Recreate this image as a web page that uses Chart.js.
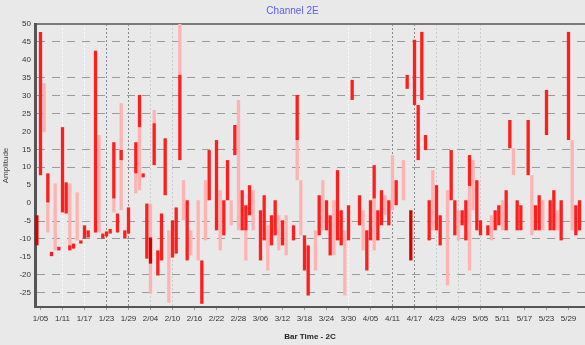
<!DOCTYPE html>
<html>
<head>
<meta charset="utf-8">
<script src="https://cdn.jsdelivr.net/npm/chart.js@4.4.1/dist/chart.umd.min.js"></script>
<style>
  html, body { margin: 0; padding: 0; background: #e9e9e9; }
  #wrap { width: 585px; height: 345px; }
</style>
</head>
<body>
<div id="wrap"><canvas id="chart" width="585" height="345"></canvas></div>
<script>
// one category per bar slot, a label every 6th slot
const categories = Array.from({ length: 150 }, (_, i) => i);
const tickLabels = ['1/05', '1/11', '1/17', '1/23', '1/29', '2/04', '2/10', '2/16', '2/22', '2/28',
    '3/06', '3/12', '3/18', '3/24', '3/30', '4/05', '4/11', '4/17', '4/23', '4/29',
    '5/05', '5/11', '5/17', '5/23', '5/29'];
const yTicks = { min: -29, max: 50, step: 5 };

// floating bars [low, high], red series
const redBars = [
    [-11.8, -3.4], [7.8, 47.8], null, [0, 8.3], [-14.8, -13.6], null, [-13.2, -12.2], [-2.6, 21.2], [-2.9, 5.8], [-13.2, -11.8],
    [-12.7, -11.3], null, [-11.3, -10.4], [-9.9, -6.2], [-9.6, -7.6], null, [-8.2, 42.5], null, [-9.9, -8.5], [-9.3, -7.9],
    [-8.5, -7.2], [1.3, 17.0], [-8.2, -2.9], [12.0, 14.8], [-9.9, -7.6], [-8.5, -1.2], null, [8.3, 17.0], [21.2, 30.2], [7.2, 8.3],
    [-15.5, 0], [-16.9, -9.6], [10.6, 22.3], [-20.2, -13.2], [-16.0, -2.9], [2.2, 18.1], null, [-15.2, -4.8], [-14.1, -1.2], [12.0, 35.8],
    null, [-16.0, 0.8], null, null, null, [-28.1, -16.0], null, [0.8, 14.8], null, [-7.6, 17.6],
    null, [-9.0, 0.8], [0.8, 12.0], null, [13.4, 21.8], null, [-7.6, 3.6], [-7.6, -0.6], [-3.4, 5.0], null,
    null, [-16.0, -2.0], [-10.4, 2.2], null, [-11.8, -3.4], [-9.0, 0.8], null, [-11.8, -4.8], null, null,
    [-10.4, -6.2], [17.6, 30.2], null, [-18.8, -9.0], [-25.8, -11.8], null, null, [-9.0, 2.2], null, [-7.6, 0.8],
    [-14.6, -3.4], null, [-10.4, 9.2], [-11.8, -2.0], null, [-10.4, -0.6], [28.8, 34.4], null, [-6.2, 2.2], null,
    [-18.8, -7.6], [-10.4, 0.8], [1.3, 10.6], [-10.4, -2.0], [-6.2, 3.6], null, [-6.2, 0.8], null, [-0.6, 6.4], null,
    null, [31.9, 35.8], [-16.0, -2.0], [27.4, 45.6], [12.0, 27.4], [28.8, 47.8], [14.8, 19.0], [-10.4, 0.8], null, [-7.6, 5.0],
    [-11.8, -3.4], null, null, [0.8, 14.8], [-9.0, 0.8], null, [-6.2, -2.0], [-10.4, 0.8], [4.8, 13.4], null,
    [-7.6, 6.4], [-9.0, -4.8], null, [-9.0, -6.2], null, [-7.6, -2.0], [-6.2, -0.6], null, [-7.6, 3.6], [15.3, 23.2],
    null, [-7.6, 0.8], [-7.6, -0.6], null, [7.8, 23.2], null, [-7.6, -0.6], [-7.6, 2.2], null, [19.0, 31.6],
    [-7.6, 0.8], [-7.6, 3.6], null, [-10.4, 0.8], null, [17.6, 47.8], null, [-9.0, -0.6], [-7.6, 0.8], null
];

// floating bars [low, high], light series
const pinkBars = [
    null, null, [19.8, 33.5], [-8.2, 0], null, [-13.2, 5.5], null, null, null, [-12.4, 5.5],
    null, [-10.4, 3.0], null, null, null, null, null, [-8.2, 19.0], null, null,
    null, [-2.6, 1.3], null, [-2.0, 27.9], null, null, null, [2.7, 8.3], [3.6, 21.2], null,
    null, [-25.3, 0], [22.3, 26.0], null, null, null, [-27.8, -7.6], null, null, [35.8, 50],
    [-4.8, 6.4], null, [-14.6, -7.6], null, [-16.0, 0.8], null, [-10.4, 6.4], null, null, null,
    [-13.2, 3.6], null, null, [-6.2, 0.8], null, [-7.6, 28.8], null, [-16.0, -7.6], null, [-7.6, 3.6],
    null, null, null, [-18.8, -6.2], null, null, [-13.2, -3.4], null, [-14.6, -3.4], null,
    null, [6.4, 17.6], [-9.0, 6.4], null, null, null, [-18.8, -7.6], null, [-7.6, 6.4], null,
    null, [-14.6, 0.8], null, null, [-25.8, -7.6], null, null, null, null, [-13.2, -2.0],
    null, null, [-13.2, 1.3], null, null, [-3.4, 2.2], null, [-2.0, 13.4], null, null,
    [0.8, 12.0], null, null, null, null, null, null, null, [-7.6, 9.2], null,
    null, null, [-23.0, 3.6], null, null, [-10.4, -2.0], null, null, [-18.8, 4.8], [-2.0, 12.0],
    null, null, null, null, [-10.4, -3.4], null, null, [-7.6, 0.8], null, null,
    [7.8, 15.3], null, null, null, null, [-9.0, 7.8], null, null, [-7.6, 0.8], null,
    null, null, [-7.6, -2.0], null, null, null, [-7.6, 17.6], null, null, null
];

// style helpers (keyed by category index)
const darkBars = [0, 31, 102];
const vGridColors = {
    7: '#fafafa', 13: '#fafafa', 19: '#8a8a8a', 25: '#8a8a8a', 31: '#cdcdcd', 37: '#cdcdcd',
    85: '#fafafa', 91: '#fafafa', 97: '#8a8a8a', 103: '#8a8a8a', 109: '#cdcdcd', 115: '#cdcdcd', 121: '#cdcdcd'
};
const hiddenYGrid = [50, 40, 20, 5, 0, -15];
const FONT = 'Liberation Sans, Arial, sans-serif';

const isLabelled = (i) => i % 6 === 1;

new Chart(document.getElementById('chart'), {
    type: 'bar',
    data: {
        labels: categories,
        datasets: [
            {
                label: 'Up',
                data: redBars,
                backgroundColor: (ctx) => darkBars.includes(ctx.dataIndex) ? '#d60000' : '#ff1e1e',
                borderWidth: 0,
                barPercentage: 1,
                categoryPercentage: 0.9,
                grouped: false,
                order: 0
            },
            {
                label: 'Down',
                data: pinkBars,
                backgroundColor: '#ffb2b2',
                borderWidth: 0,
                barPercentage: 1,
                categoryPercentage: 0.9,
                grouped: false,
                order: 1
            }
        ]
    },
    options: {
        responsive: false,
        animation: false,
        layout: { padding: 0 },
        plugins: {
            legend: { display: false },
            tooltip: { enabled: false },
            title: {
                display: true,
                text: 'Channel 2E',
                color: '#5b5bff',
                font: { family: FONT, size: 10, weight: 'normal' },
                padding: { top: 5, bottom: 7 }
            }
        },
        scales: {
            x: {
                type: 'category',
                position: 'bottom',
                offset: true,
                grid: {
                    offset: false,
                    // tick.value is the category index of the tick
                    color: (ctx) => (ctx.tick && vGridColors[ctx.tick.value]) || 'transparent',
                    tickColor: '#999',
                    tickLength: 3
                },
                border: { color: '#555', width: 2, dash: [2, 2] },
                ticks: {
                    autoSkip: false,
                    maxRotation: 0,
                    padding: 4,
                    color: '#333',
                    font: { family: FONT, size: 8 },
                    callback: (val, i) => isLabelled(i) ? tickLabels[(i - 1) / 6] : null
                },
                title: {
                    display: true,
                    text: 'Bar Time - 2C',
                    color: '#222',
                    font: { family: FONT, size: 8, weight: 'bold' },
                    padding: { top: 2, bottom: 3 }
                },
                afterFit: (s) => { s.height = 38; }
            },
            x2: {
                type: 'category',
                position: 'top',
                grid: { display: false },
                ticks: { display: false },
                border: { color: '#7a7a7a', width: 2 },
                afterFit: (s) => { s.height = 0; }
            },
            y: {
                type: 'linear',
                min: yTicks.min,
                max: yTicks.max,
                grid: {
                    color: (ctx) => hiddenYGrid.includes(ctx.tick.value) ? 'transparent' : '#9a9a9a',
                    drawTicks: false
                },
                border: { color: '#555', width: 3, dash: [8, 7] },
                ticks: {
                    stepSize: yTicks.step,
                    includeBounds: false,
                    padding: 4,
                    color: '#333',
                    font: { family: FONT, size: 8 }
                },
                title: {
                    display: true,
                    text: 'Amplitude',
                    color: '#444',
                    font: { family: FONT, size: 8 },
                    padding: 1
                },
                afterFit: (s) => { s.width = 35; }
            }
        }
    }
});
</script>
</body>
</html>
